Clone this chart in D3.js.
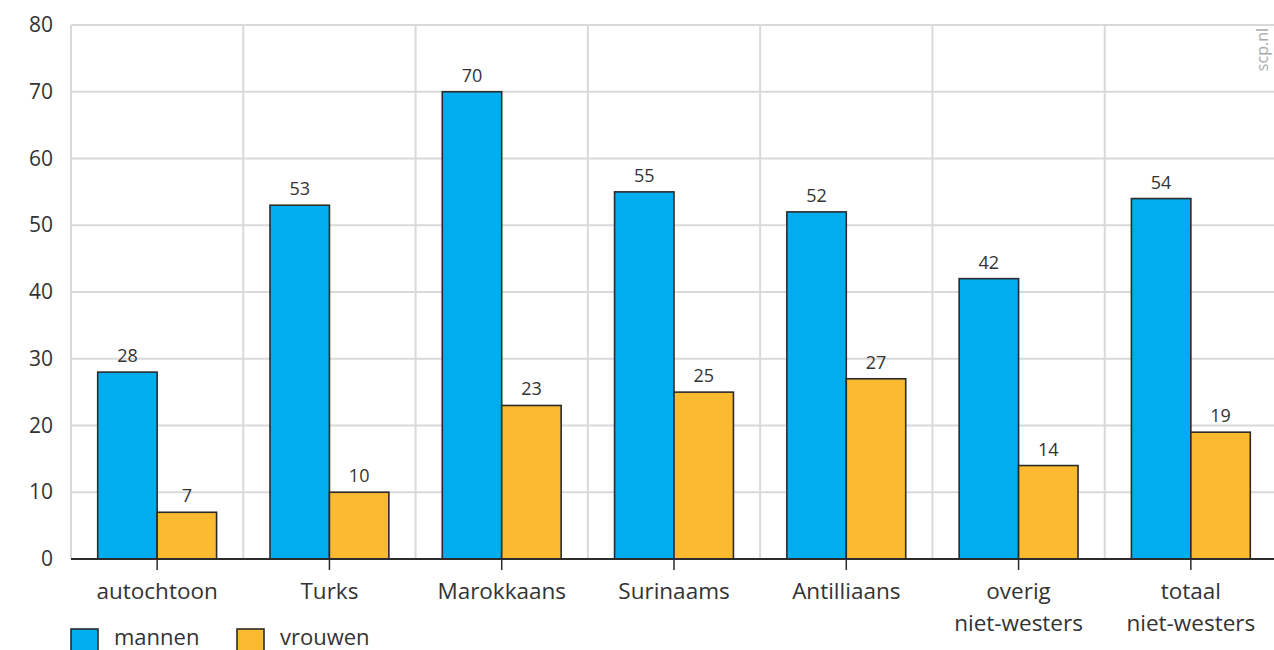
<!DOCTYPE html>
<html><head><meta charset="utf-8">
<script src="https://cdn.jsdelivr.net/npm/d3@7"></script>
<style>body{margin:0;background:#fff;overflow:hidden}svg{display:block}text{font-family:"Open Sans",sans-serif;fill:#333}</style>
</head><body><svg width="1274" height="650"></svg>
<script>
const categories = [["autochtoon"],["Turks"],["Marokkaans"],["Surinaams"],["Antilliaans"],["overig","niet-westers"],["totaal","niet-westers"]];
const mannen = [28,53,70,55,52,42,54];
const vrouwen = [7,10,23,25,27,14,19];
const yTicks = [0,10,20,30,40,50,60,70,80];
const seriesNames = ["mannen","vrouwen"];
const colors = ["#00AEEF","#FBBA30"];

const svg = d3.select("svg");
const x = d3.scaleBand().domain(d3.range(categories.length)).range([71,1277]).padding(0);
const y = d3.scaleLinear().domain([0,80]).range([559,25]);
const bw = x.bandwidth()*0.345;

svg.append("g").selectAll("line").data(yTicks.filter(d=>d>0)).join("line")
  .attr("x1",71).attr("x2",1277).attr("y1",d=>y(d)).attr("y2",d=>y(d))
  .attr("stroke","#d9d9d9").attr("stroke-width",2);
svg.append("g").selectAll("line").data(d3.range(categories.length)).join("line")
  .attr("x1",d=>x(d)).attr("x2",d=>x(d)).attr("y1",y(80)).attr("y2",y(0))
  .attr("stroke","#d9d9d9").attr("stroke-width",2);

svg.append("g").selectAll("text").data(yTicks).join("text")
  .attr("x",53).attr("y",d=>y(d)+7).attr("text-anchor","end")
  .style("font-size","21px").text(d=>d);

const series = [mannen, vrouwen];
series.forEach((vals,si)=>{
  const g = svg.append("g");
  g.selectAll("rect").data(vals).join("rect")
    .attr("x",(d,i)=>x(i)+x.bandwidth()/2 + (si===0?-bw:0))
    .attr("y",d=>y(d)).attr("width",bw).attr("height",d=>y(0)-y(d))
    .attr("fill",colors[si]).attr("stroke","#2b2b2b").attr("stroke-width",1.6);
  g.selectAll("text").data(vals).join("text")
    .attr("x",(d,i)=>x(i)+x.bandwidth()/2 + (si===0?-bw/2:bw/2))
    .attr("y",d=>y(d)-10).attr("text-anchor","middle")
    .style("font-size","18px").text(d=>d);
});

svg.append("line").attr("x1",71).attr("x2",1277).attr("y1",y(0)).attr("y2",y(0))
  .attr("stroke","#2b2b2b").attr("stroke-width",2);
svg.append("g").selectAll("line").data(d3.range(categories.length)).join("line")
  .attr("x1",d=>x(d)+x.bandwidth()/2).attr("x2",d=>x(d)+x.bandwidth()/2)
  .attr("y1",y(0)).attr("y2",y(0)+11).attr("stroke","#2b2b2b").attr("stroke-width",1.5);
const cl = svg.append("g").selectAll("text").data(categories).join("text")
  .attr("x",(d,i)=>x(i)+x.bandwidth()/2).attr("y",599).attr("text-anchor","middle")
  .style("font-size","22.5px");
cl.selectAll("tspan").data(d=>d).join("tspan")
  .attr("x",function(){return this.parentNode.getAttribute("x");})
  .attr("dy",(d,i)=>i===0?0:32).text(d=>d);

const lg = svg.append("g");
const legX = [71,237];
seriesNames.forEach((n,i)=>{
  lg.append("rect").attr("x",legX[i]).attr("y",629).attr("width",27).attr("height",24)
    .attr("fill",colors[i]).attr("stroke","#2b2b2b").attr("stroke-width",1.6);
  lg.append("text").attr("x",legX[i]+43).attr("y",645).style("font-size","22px").text(n);
});

svg.append("text").attr("transform","translate(1268,28) rotate(-90)")
  .attr("text-anchor","end").style("font-size","16px").style("fill","#aaa").text("scp.nl");
</script></body></html>
